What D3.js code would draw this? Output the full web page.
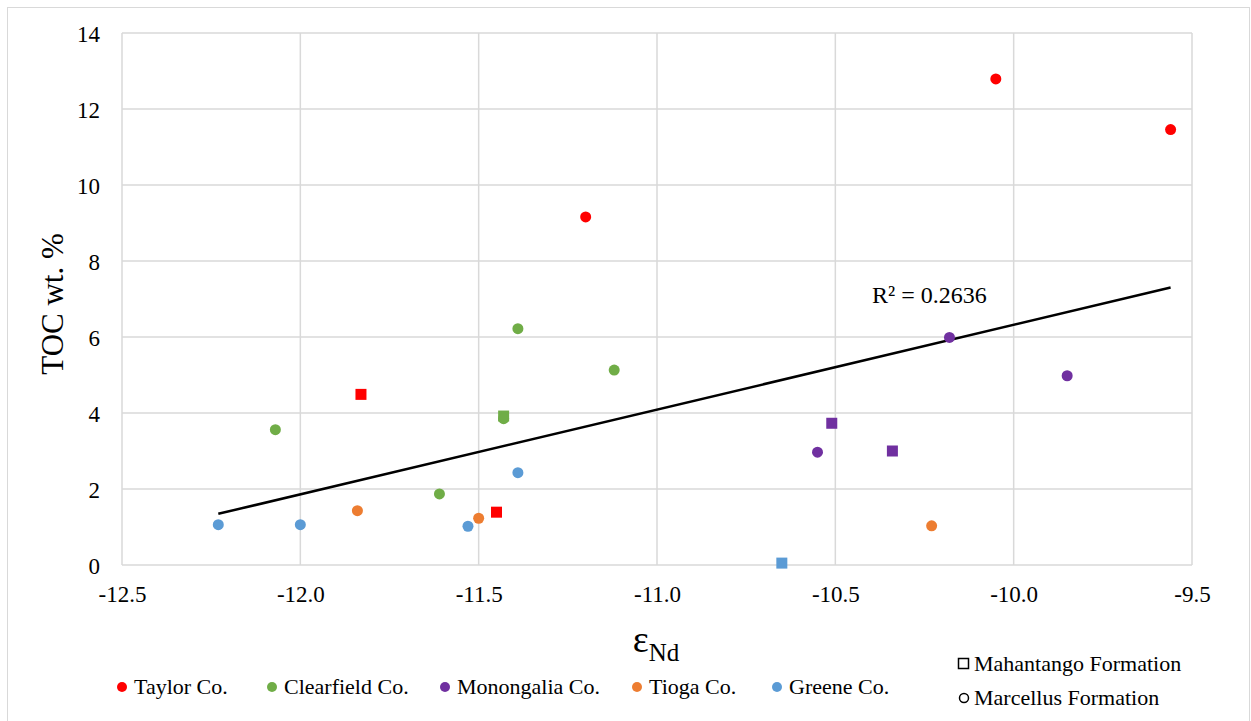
<!DOCTYPE html>
<html>
<head>
<meta charset="utf-8">
<script src="https://cdn.jsdelivr.net/npm/d3@7"></script>
<style>
  body { margin: 0; background: #fff; }
  text { font-family: "Liberation Serif", "Times New Roman", serif; fill: #000; }
</style>
</head>
<body>
<svg id="chart"></svg>
<script>
const width = 1251;
const height = 721;

// data: [eNd, TOC wt. %]
const counties = ["Taylor Co.", "Clearfield Co.", "Monongalia Co.", "Tioga Co.", "Greene Co."];
const countyColors = ["#FF0000", "#70AD47", "#7030A0", "#ED7D31", "#5B9BD5"];

const taylorMarcellus = [[-10.05, 12.79], [-9.56, 11.46], [-11.2, 9.16]];
const taylorMahantango = [[-11.83, 4.49], [-11.45, 1.39]];
const clearfieldMarcellus = [[-12.07, 3.56], [-11.61, 1.87], [-11.39, 6.22], [-11.12, 5.13], [-11.43, 3.85]];
const clearfieldMahantango = [[-11.43, 3.92]];
const monongaliaMarcellus = [[-10.18, 5.99], [-9.85, 4.98], [-10.55, 2.97]];
const monongaliaMahantango = [[-10.51, 3.73], [-10.34, 3.0]];
const tiogaMarcellus = [[-11.84, 1.43], [-11.5, 1.23], [-10.23, 1.03]];
const tiogaMahantango = [];
const greeneMarcellus = [[-12.23, 1.06], [-12.0, 1.06], [-11.53, 1.02], [-11.39, 2.43]];
const greeneMahantango = [[-10.65, 0.05]];

const marcellusSets = [taylorMarcellus, clearfieldMarcellus, monongaliaMarcellus, tiogaMarcellus, greeneMarcellus];
const mahantangoSets = [taylorMahantango, clearfieldMahantango, monongaliaMahantango, tiogaMahantango, greeneMahantango];

const xTicks = [-12.5, -12.0, -11.5, -11.0, -10.5, -10.0, -9.5];
const yTicks = [0, 2, 4, 6, 8, 10, 12, 14];
const formations = ["Mahantango Formation", "Marcellus Formation"];
const rSquaredLabel = "R\u00B2 = 0.2636";

// layout
const plot = { left: 122, right: 1192, top: 33, bottom: 565 };
const legendX = [122, 272, 445, 637, 777];
const gridColor = "#D9D9D9";
const serif = "'Liberation Serif', 'Times New Roman', serif";

const svg = d3.select("#chart").attr("width", width).attr("height", height)
    .style("font-family", serif);

// outer chart frame
svg.append("rect")
    .attr("x", 7.5).attr("y", 7.5)
    .attr("width", 1242).attr("height", 725)
    .attr("fill", "none")
    .attr("stroke", gridColor)
    .attr("stroke-width", 1);

const x = d3.scaleLinear().domain([-12.5, -9.5]).range([plot.left, plot.right]);
const y = d3.scaleLinear().domain([0, 14]).range([plot.bottom, plot.top]);

// gridlines
svg.append("g")
    .selectAll("line.vgrid")
    .data(xTicks)
    .join("line")
    .attr("x1", d => x(d)).attr("x2", d => x(d))
    .attr("y1", plot.top).attr("y2", plot.bottom)
    .attr("stroke", gridColor).attr("stroke-width", 1.5);

svg.append("g")
    .selectAll("line.hgrid")
    .data(yTicks)
    .join("line")
    .attr("x1", plot.left).attr("x2", plot.right)
    .attr("y1", d => y(d)).attr("y2", d => y(d))
    .attr("stroke", gridColor).attr("stroke-width", 1.5);

// axes (labels only)
const xAxis = svg.append("g")
    .attr("transform", `translate(0,${plot.bottom})`)
    .call(d3.axisBottom(x).tickValues(xTicks).tickSize(0).tickFormat(d => d.toFixed(1)));
xAxis.attr("font-family", null).attr("font-size", null);
xAxis.select(".domain").remove();
xAxis.selectAll("text")
    .attr("y", 37).attr("dy", 0)
    .style("font-family", serif)
    .style("font-size", "23px");

const yAxis = svg.append("g")
    .attr("transform", `translate(${plot.left},0)`)
    .call(d3.axisLeft(y).tickValues(yTicks).tickSize(0).tickFormat(d => d));
yAxis.attr("font-family", null).attr("font-size", null);
yAxis.select(".domain").remove();
yAxis.selectAll("text")
    .attr("x", -22).attr("dy", "0.35em")
    .style("font-family", serif)
    .style("font-size", "23px");

// axis titles
svg.append("text")
    .attr("transform", `translate(63,${(plot.top + plot.bottom) / 2 + 5}) rotate(-90)`)
    .attr("text-anchor", "middle")
    .style("font-size", "31px")
    .text("TOC wt. %");

const xTitle = svg.append("text")
    .attr("x", 656).attr("y", 652)
    .attr("text-anchor", "middle");
xTitle.append("tspan").style("font-size", "38px").text("\u03B5");
xTitle.append("tspan").attr("dy", 9).style("font-size", "25px").text("Nd");

// trendline (least squares over all samples)
const allPts = marcellusSets.concat(mahantangoSets).flat();
const mx = d3.mean(allPts, d => d[0]);
const my = d3.mean(allPts, d => d[1]);
const slope = d3.sum(allPts, d => (d[0] - mx) * (d[1] - my)) / d3.sum(allPts, d => (d[0] - mx) ** 2);
const intercept = my - slope * mx;
const xExt = d3.extent(allPts, d => d[0]);
const trend = xExt.map(v => [v, intercept + slope * v]);

svg.append("path")
    .datum(trend)
    .attr("d", d3.line().x(d => x(d[0])).y(d => y(d[1])))
    .attr("fill", "none")
    .attr("stroke", "#000")
    .attr("stroke-width", 2.5);

svg.append("text")
    .attr("x", 872).attr("y", 303)
    .style("font-size", "24px")
    .text(rSquaredLabel);

// points
const pts = svg.append("g");
counties.forEach((c, i) => {
    pts.selectAll(null)
        .data(mahantangoSets[i])
        .join("rect")
        .attr("x", d => x(d[0]) - 5.5)
        .attr("y", d => y(d[1]) - 5.5)
        .attr("width", 11).attr("height", 11)
        .attr("fill", countyColors[i]);
    pts.selectAll(null)
        .data(marcellusSets[i])
        .join("circle")
        .attr("cx", d => x(d[0]))
        .attr("cy", d => y(d[1]))
        .attr("r", 5.5)
        .attr("fill", countyColors[i]);
});

// county legend
const legend = svg.append("g");
counties.forEach((c, i) => {
    legend.append("circle")
        .attr("cx", legendX[i]).attr("cy", 687)
        .attr("r", 5)
        .attr("fill", countyColors[i]);
    legend.append("text")
        .attr("x", legendX[i] + 12).attr("y", 694)
        .style("font-size", "22px")
        .text(c);
});

// formation legend
legend.append("rect")
    .attr("x", 958.5).attr("y", 658.5)
    .attr("width", 10).attr("height", 10)
    .attr("fill", "#fff").attr("stroke", "#000").attr("stroke-width", 1.5);
legend.append("text")
    .attr("x", 974).attr("y", 671)
    .style("font-size", "22px")
    .text(formations[0]);
legend.append("circle")
    .attr("cx", 964).attr("cy", 698)
    .attr("r", 4.5)
    .attr("fill", "#fff").attr("stroke", "#000").attr("stroke-width", 1.5);
legend.append("text")
    .attr("x", 974).attr("y", 705)
    .style("font-size", "22px")
    .text(formations[1]);
</script>
</body>
</html>
